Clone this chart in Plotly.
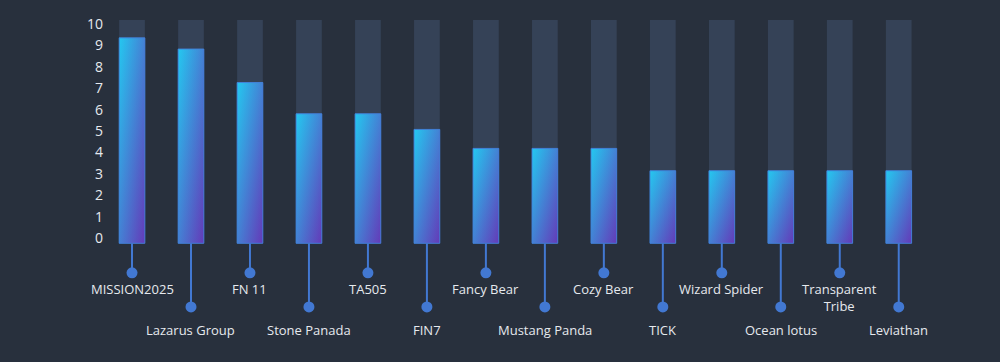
import plotly.graph_objects as go

# ---- data ----
groups = ["MISSION2025", "Lazarus Group", "FN 11", "Stone Panada", "TA505", "FIN7",
          "Fancy Bear", "Mustang Panda", "Cozy Bear", "TICK", "Wizard Spider",
          "Ocean lotus", "Transparent<br>Tribe", "Leviathan"]
scores = [9.2, 8.7, 7.2, 5.8, 5.8, 5.1, 4.25, 4.25, 4.25, 3.25, 3.25, 3.25, 3.25, 3.25]
max_score = 10
tick_values = list(range(0, 11))
tick_labels = [str(v) for v in tick_values]

# ---- style ----
BG = "#28303d"
TRACK = "#354257"
CYAN = "rgba(36,200,240,1)"
PURPLE = "rgba(100,58,184,1)"
CYAN_H = "rgba(36,200,240,0.5)"
PURPLE_H = "rgba(100,58,184,0.5)"
LEADER = "#4278d2"
TEXT = "#e6e9ee"
BAR_W = 0.436
DOT_NEAR, DOT_FAR = -1.32, -2.85
LBL_NEAR, LBL_FAR = -1.55, -3.38
FONT = "Open Sans"

fig = go.Figure()
idx = list(range(len(groups)))

# background tracks
fig.add_trace(go.Bar(x=idx, y=[max_score] * len(idx), width=BAR_W,
                     marker=dict(color=TRACK, line=dict(width=0)),
                     hoverinfo="skip", showlegend=False))

# gradient bars (horizontal + half-transparent vertical = diagonal)
for i, v in zip(idx, scores):
    xs = [i - BAR_W / 2, i + BAR_W / 2, i + BAR_W / 2, i - BAR_W / 2, i - BAR_W / 2]
    ys = [0, 0, v, v, 0]
    fig.add_trace(go.Scatter(x=xs, y=ys, mode="lines", fill="toself",
                             fillgradient=dict(type="horizontal",
                                               colorscale=[[0, CYAN], [1, PURPLE]]),
                             line=dict(width=0), hoverinfo="skip", showlegend=False))
    fig.add_trace(go.Scatter(x=xs, y=ys, mode="lines", fill="toself",
                             fillgradient=dict(type="vertical",
                                               colorscale=[[0, PURPLE_H], [1, CYAN_H]]),
                             line=dict(width=1, color="rgba(66,130,220,0.9)"),
                             hoverinfo="skip", showlegend=False))

# leader lines and dots
for i in idx:
    dy = DOT_NEAR if i % 2 == 0 else DOT_FAR
    fig.add_trace(go.Scatter(x=[i, i], y=[0, dy], mode="lines",
                             line=dict(color=LEADER, width=2),
                             hoverinfo="skip", showlegend=False))
fig.add_trace(go.Scatter(x=idx, y=[DOT_NEAR if i % 2 == 0 else DOT_FAR for i in idx],
                         mode="markers", marker=dict(color=LEADER, size=11),
                         hoverinfo="skip", showlegend=False))

# labels
for i, g in zip(idx, groups):
    ly = LBL_NEAR if i % 2 == 0 else LBL_FAR
    fig.add_annotation(x=i, y=ly, text=g, showarrow=False, xanchor="center",
                       yanchor="top", font=dict(family=FONT, size=13, color=TEXT))

# invisible trace to enable tick label axis
fig.add_trace(go.Scatter(x=[0], y=[0], yaxis="y2", mode="markers",
                         marker=dict(opacity=0), hoverinfo="skip", showlegend=False))

fig.update_layout(
    width=1000, height=362,
    margin=dict(l=104, r=70, t=20, b=0),
    paper_bgcolor=BG, plot_bgcolor=BG,
    barmode="overlay",
    xaxis=dict(range=[-0.475, 13.53], showgrid=False, zeroline=False,
               showticklabels=False, fixedrange=True),
    yaxis=dict(range=[-5.316, 10], showgrid=False, zeroline=False,
               showticklabels=False),
    yaxis2=dict(range=[-5.794, 10.187], overlaying="y", side="left",
                tickvals=tick_values, ticktext=tick_labels, showgrid=False,
                zeroline=False, showline=False, ticks="",
                tickfont=dict(family=FONT, size=14, color=TEXT)),
    showlegend=False,
)

fig.write_html("out.html")
